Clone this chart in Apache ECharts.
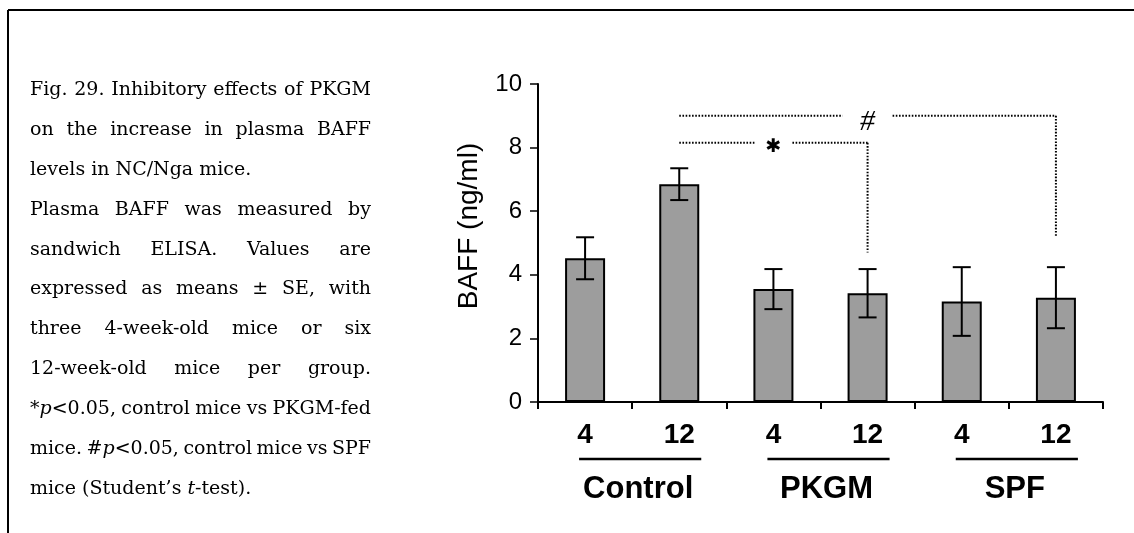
<!DOCTYPE html>
<html>
<head>
<meta charset="utf-8">
<script src="https://cdn.jsdelivr.net/npm/echarts@6/dist/echarts.min.js"></script>
<style>
  html, body { margin: 0; padding: 0; background: #fff; }
  #main { width: 1134px; height: 533px; }
</style>
</head>
<body>
<div id="main"></div>
<script>
// ---- data ----
const ages = ['4', '12', '4', '12', '4', '12'];
const groups = ['Control', 'PKGM', 'SPF'];
const baffMean = [4.52, 6.85, 3.55, 3.42, 3.16, 3.28];   // ng/ml
const baffSE = [0.66, 0.50, 0.63, 0.76, 1.08, 0.96];
const yMin = 0, yMax = 10, yStep = 2;
const yTitle = 'BAFF (ng/ml)';

// significance brackets: horizontal level, where the vertical drop ends, mark text
const bracketMarks = ['#', '*'];
const bracketFrom = [1, 1];
const bracketTo = [5, 3];
const bracketMarkAt = [3, 2];
const bracketLevel = [9.0, 8.15];
const bracketDrop = [5.2, 4.7];

const captionLines = [
  'Fig. 29. Inhibitory effects of PKGM',
  'on the increase in plasma BAFF',
  'levels in NC/Nga mice.',
  'Plasma BAFF was measured by',
  'sandwich ELISA. Values are',
  'expressed as means \u00B1 SE, with',
  'three 4-week-old mice or six',
  '12-week-old mice per group.',
  '*_p_<0.05, control mice vs PKGM-fed',
  'mice. #_p_<0.05, control mice vs SPF',
  'mice (Student\u2019s _t_-test).'
];

// ---- layout / style ----
const SANS = '"Liberation Sans", Arial, sans-serif';
const NARROW = '"Liberation Sans Narrow", "Liberation Sans", Arial, sans-serif';
const SERIF = '"DejaVu Serif", "Liberation Serif", serif';
const CAP_SIZE = 19;
const CAP_LEFT = 30, CAP_RIGHT = 371, CAP_BASE0 = 96.5, CAP_STEP = 39.9;
const paragraphEnds = [2, 10];   // lines set ragged (last line of a paragraph)

const chart = echarts.init(document.getElementById('main'), null, { renderer: 'canvas' });

function errorBar(params, api) {
  const i = api.value(0);
  const lo = api.coord([i, api.value(1)]);
  const hi = api.coord([i, api.value(2)]);
  const cap = 9;
  const st = { stroke: '#000', lineWidth: 2 };
  return {
    type: 'group',
    children: [
      { type: 'line', shape: { x1: lo[0], y1: lo[1], x2: hi[0], y2: hi[1] }, style: st },
      { type: 'line', shape: { x1: hi[0] - cap, y1: hi[1], x2: hi[0] + cap, y2: hi[1] }, style: st },
      { type: 'line', shape: { x1: lo[0] - cap, y1: lo[1], x2: lo[0] + cap, y2: lo[1] }, style: st }
    ]
  };
}

function bracket(params, api) {
  const k = params.dataIndex;
  const start = api.coord([api.value(0), api.value(2)]);
  const end = api.coord([api.value(1), api.value(2)]);
  const bottom = api.coord([api.value(1), api.value(3)]);
  const mark = api.coord([api.value(4), api.value(2)]);
  const isHash = bracketMarks[k] === '#';
  const gap = isHash ? 25 : 19;
  const dot = { stroke: '#000', lineWidth: 2, lineDash: [1.6, 1.6] };
  return {
    type: 'group',
    children: [
      { type: 'line', shape: { x1: start[0], y1: start[1], x2: mark[0] - gap, y2: start[1] }, style: dot },
      { type: 'line', shape: { x1: mark[0] + gap, y1: end[1], x2: end[0], y2: end[1] }, style: dot },
      { type: 'line', shape: { x1: end[0], y1: end[1], x2: bottom[0], y2: bottom[1] }, style: dot },
      {
        type: 'text', x: mark[0], y: mark[1] + (isHash ? 6 : 4),
        style: {
          text: isHash ? '#' : '\u2731',
          font: isHash ? 'italic 30px "Liberation Serif", serif' : 'bold 19px "DejaVu Sans", sans-serif',
          fill: '#000', align: 'center', verticalAlign: 'middle'
        }
      }
    ]
  };
}

chart.setOption({
  animation: false,
  backgroundColor: '#fff',
  grid: { left: 538, right: 31, top: 84, bottom: 131, containLabel: false },
  xAxis: {
    type: 'category',
    data: ages,
    axisLine: { lineStyle: { color: '#000', width: 2 } },
    axisTick: { show: true, length: 7, lineStyle: { color: '#000', width: 2 } },
    axisLabel: { color: '#000', fontFamily: SANS, fontWeight: 'bold', fontSize: 28, margin: 19 }
  },
  yAxis: {
    type: 'value',
    min: yMin, max: yMax, interval: yStep,
    splitLine: { show: false },
    axisLine: { show: true, lineStyle: { color: '#000', width: 2 } },
    axisTick: { show: true, length: 8, lineStyle: { color: '#000', width: 1.5 } },
    axisLabel: { color: '#000', fontFamily: NARROW, fontSize: 24, margin: 16 }
  },
  series: [
    {
      type: 'bar', data: baffMean, barWidth: 40, z: 2,
      itemStyle: { color: '#9d9d9d', borderColor: '#000', borderWidth: 2 }
    },
    {
      type: 'custom', renderItem: errorBar, z: 3,
      data: baffMean.map((m, i) => [i, m - baffSE[i], m + baffSE[i]])
    },
    {
      type: 'custom', renderItem: bracket, z: 4,
      data: bracketMarks.map((_, k) => [bracketFrom[k], bracketTo[k], bracketLevel[k], bracketDrop[k], bracketMarkAt[k]])
    }
  ]
});

// ---- caption, frame, group labels ----
const measureCtx = document.createElement('canvas').getContext('2d');
function capFont(italic) { return (italic ? 'italic ' : '') + CAP_SIZE + 'px ' + SERIF; }
function textWidth(t, italic) { measureCtx.font = capFont(italic); return measureCtx.measureText(t).width; }

const graphics = [];

// frame
graphics.push({ type: 'line', silent: true, shape: { x1: 8, y1: 10, x2: 1134, y2: 10 }, style: { stroke: '#000', lineWidth: 2 } });
graphics.push({ type: 'line', silent: true, shape: { x1: 8, y1: 10, x2: 8, y2: 533 }, style: { stroke: '#000', lineWidth: 2 } });

// justified caption
captionLines.forEach((line, li) => {
  const words = line.split(' ').map(w => w.split('_').map((s, si) => ({ t: s, it: si % 2 === 1 })).filter(s => s.t.length));
  const widths = words.map(ws => ws.reduce((a, s) => a + textWidth(s.t, s.it), 0));
  const total = widths.reduce((a, b) => a + b, 0);
  const ragged = paragraphEnds.indexOf(li) >= 0 || words.length < 2;
  const gap = ragged ? textWidth(' ', false) : (CAP_RIGHT - CAP_LEFT - total) / (words.length - 1);
  const y = CAP_BASE0 + li * CAP_STEP - 6.5;
  let x = CAP_LEFT;
  words.forEach((ws, wi) => {
    let sx = x;
    ws.forEach(s => {
      graphics.push({
        type: 'text', silent: true, x: sx, y: y,
        style: { text: s.t, font: capFont(s.it), fill: '#000', align: 'left', verticalAlign: 'middle' }
      });
      sx += textWidth(s.t, s.it);
    });
    x += widths[wi] + gap;
  });
});

// y-axis title
graphics.push({
  type: 'text', silent: true, x: 469, y: 226, rotation: Math.PI / 2,
  style: { text: yTitle, font: '28px ' + SANS, fill: '#000', align: 'center', verticalAlign: 'middle' }
});

// group underlines and names
groups.forEach((g, gi) => {
  const a = chart.convertToPixel({ xAxisIndex: 0, yAxisIndex: 0 }, [gi * 2, 0]);
  const b = chart.convertToPixel({ xAxisIndex: 0, yAxisIndex: 0 }, [gi * 2 + 1, 0]);
  graphics.push({
    type: 'line', silent: true,
    shape: { x1: a[0] - 6, y1: 459, x2: b[0] + 22, y2: 459 },
    style: { stroke: '#000', lineWidth: 2.5 }
  });
  graphics.push({
    type: 'text', silent: true, x: (a[0] + b[0]) / 2 + 6, y: 489,
    style: { text: g, font: 'bold 31px ' + SANS, fill: '#000', align: 'center', verticalAlign: 'middle' }
  });
});

chart.setOption({ graphic: graphics });
</script>
</body>
</html>
